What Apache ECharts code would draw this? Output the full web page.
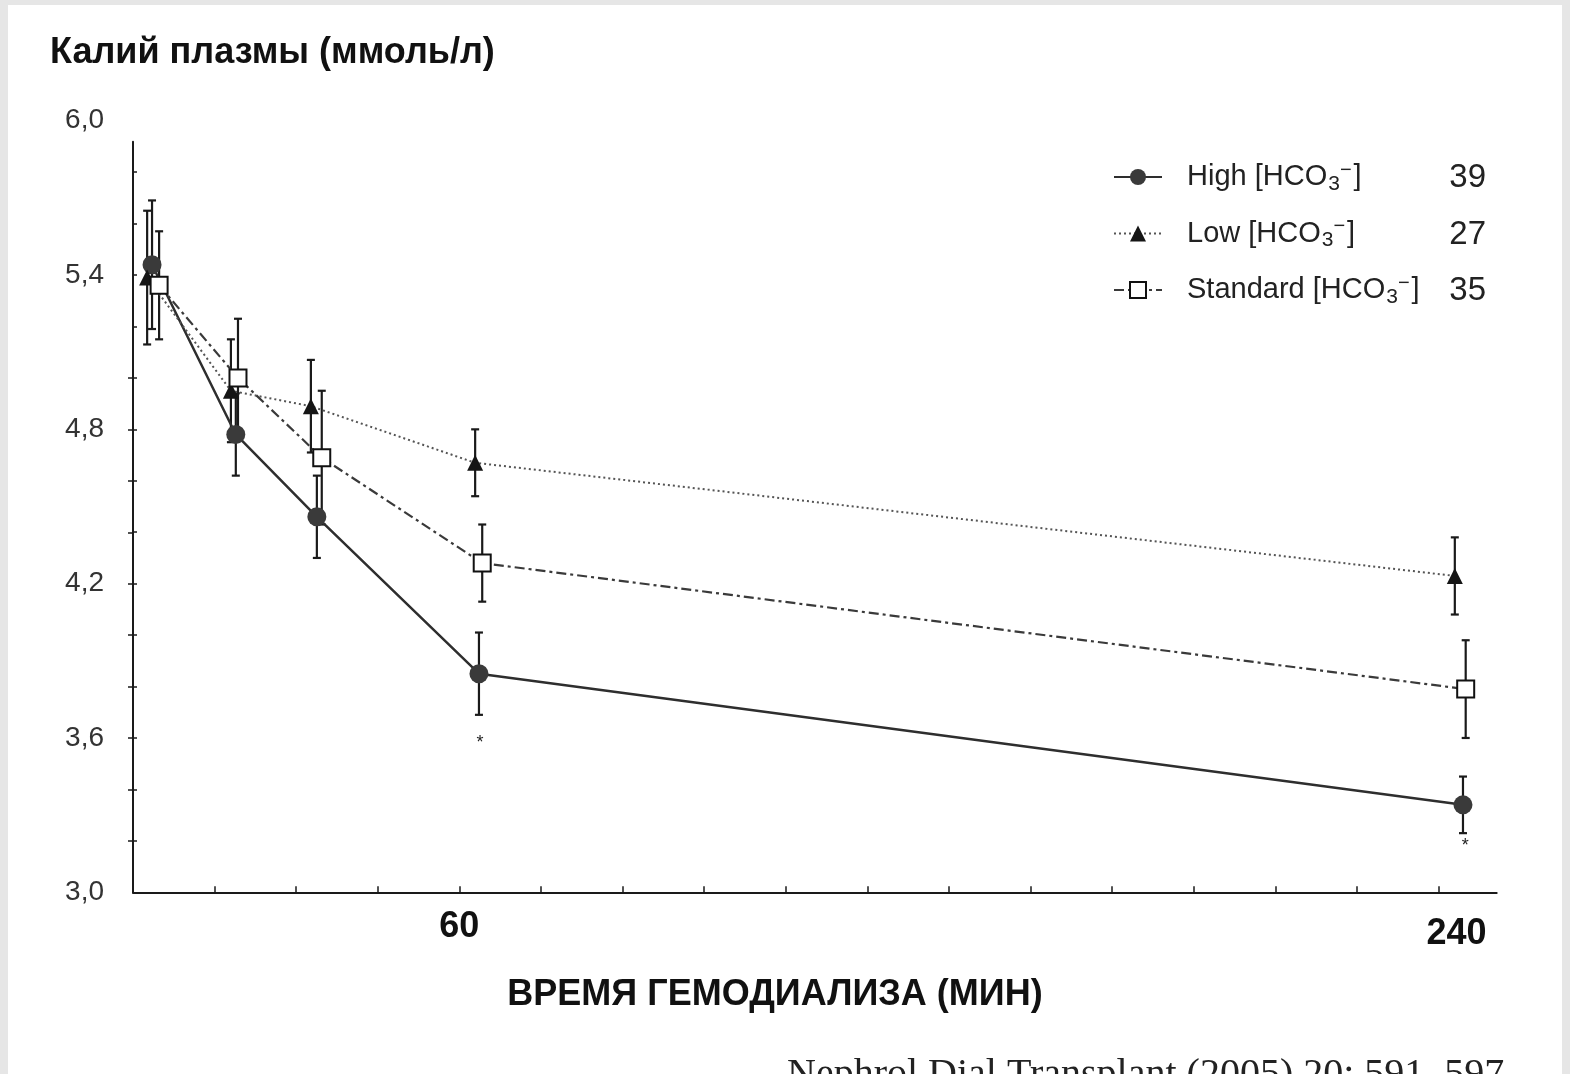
<!DOCTYPE html>
<html>
<head>
<meta charset="utf-8">
<script src="https://cdn.jsdelivr.net/npm/echarts@6/dist/echarts.min.js"></script>
<style>
  html, body { margin: 0; padding: 0; background: #e6e6e6; }
  #paper { position: absolute; left: 8px; top: 5px; width: 1554px; height: 1069px; background: #ffffff; }
  #chart { position: absolute; left: 0; top: 0; width: 1570px; height: 1074px; }
</style>
</head>
<body>
<div id="paper"></div>
<div id="chart"></div>
<script>
// ---- data ----
const seriesNames = ['High', 'Low', 'Standard'];
const groupN = [39, 27, 35];

// plotted time positions (min), slightly staggered per group as in the figure
const timeHigh = [3.5, 18.9, 33.8, 63.6, 244.5];
const timeLow  = [2.6, 18.0, 32.7, 62.9, 243.0];
const timeStd  = [4.8, 19.3, 34.7, 64.2, 245.0];

// plasma potassium means (mmol/l)
const kHigh = [5.44, 4.78, 4.46, 3.85, 3.34];
const kLow  = [5.39, 4.95, 4.89, 4.67, 4.23];
const kStd  = [5.36, 5.00, 4.69, 4.28, 3.79];

// error bar half-lengths (mmol/l)
const errHigh = [0.25, 0.16, 0.16, 0.16, 0.11];
const errLow  = [0.26, 0.20, 0.18, 0.13, 0.15];
const errStd  = [0.21, 0.23, 0.26, 0.15, 0.19];

// significance marks
const starTime = [63.8, 244.9];
const starK = [3.58, 3.18];

const yTickLabels = [3.0, 3.6, 4.2, 4.8, 5.4, 6.0];
const xTickValues = [15, 30, 45, 60, 75, 90, 105, 120, 135, 150, 165, 180, 195, 210, 225, 240];
const xLabelValues = [60, 240];
const yMinorTicks = [3.2, 3.4, 3.6, 3.8, 4.0, 4.2, 4.4, 4.6, 4.8, 5.0, 5.2, 5.4, 5.6, 5.8];
const yRightTicks = [3.2, 3.4, 3.6, 3.8, 4.0, 4.2, 4.4, 4.6, 4.8, 5.0];

const yTitle = 'Калий плазмы (ммоль/л)';
const xTitle = 'ВРЕМЯ ГЕМОДИАЛИЗА (МИН)';
const citation = 'Nephrol Dial Transplant (2005) 20: 591–597';

// ---- build ----
const SANS = '"Liberation Sans", Arial, sans-serif';
const SERIF = '"Liberation Serif", "Times New Roman", serif';
const zip = (a, b) => a.map((v, i) => [v, b[i]]);
const zip3 = (a, b, c) => a.map((v, i) => [v, b[i], c[i]]);

function errSeries(data) {
  return {
    type: 'custom', xAxisIndex: 0, yAxisIndex: 0, z: 1, silent: true,
    data: data,
    encode: { x: 0, y: 1 },
    renderItem: function (params, api) {
      const x = api.value(0), y = api.value(1), e = api.value(2);
      const t = api.coord([x, y + e]), b = api.coord([x, y - e]);
      const c = 4;
      const st = { stroke: '#1a1a1a', lineWidth: 2.2 };
      return { type: 'group', children: [
        { type: 'line', shape: { x1: t[0], y1: t[1], x2: b[0], y2: b[1] }, style: st },
        { type: 'line', shape: { x1: t[0] - c, y1: t[1], x2: t[0] + c, y2: t[1] }, style: st },
        { type: 'line', shape: { x1: b[0] - c, y1: b[1], x2: b[0] + c, y2: b[1] }, style: st }
      ]};
    }
  };
}

const X_MAX = 250.7;
const gridBottom = 181.7;
const gridRight = 73.3;

const option = {
  animation: false,
  backgroundColor: 'transparent',
  textStyle: { fontFamily: SANS },
  grid: [
    { left: 133, right: gridRight, top: 120.7, bottom: gridBottom },
    { left: 133, right: gridRight, top: 141.7, bottom: gridBottom },
    { left: 133, right: gridRight, top: 370, bottom: gridBottom }
  ],
  xAxis: [
    {
      gridIndex: 0, type: 'value', min: 0, max: X_MAX,
      axisLine: { show: true, lineStyle: { color: '#1a1a1a', width: 2 } },
      axisTick: { show: true, inside: true, length: 6, customValues: xTickValues, lineStyle: { color: '#1a1a1a', width: 1.5 } },
      splitLine: { show: false },
      axisLabel: {
        customValues: xLabelValues, margin: 17,
        formatter: v => (v === 240 ? '{b|240}' : '{a|' + v + '}'),
        rich: {
          a: { fontFamily: SANS, fontSize: 36, fontWeight: 'bold', color: '#111' },
          b: { fontFamily: SANS, fontSize: 36, fontWeight: 'bold', color: '#111', padding: [7, 0, 0, 36] }
        }
      }
    },
    { gridIndex: 1, type: 'value', min: 0, max: X_MAX, show: false },
    { gridIndex: 2, type: 'value', min: 0, max: X_MAX, show: false }
  ],
  yAxis: [
    {
      gridIndex: 0, type: 'value', min: 3.0, max: 6.0, interval: 0.6,
      axisLine: { show: false }, axisTick: { show: false }, splitLine: { show: false },
      axisLabel: {
        margin: 29, fontSize: 28, color: '#333', fontFamily: SANS,
        formatter: v => v.toFixed(1).replace('.', ',')
      }
    },
    {
      gridIndex: 1, type: 'value', min: 3.0, max: 5.918,
      axisLine: { show: true, lineStyle: { color: '#1a1a1a', width: 2 } },
      axisTick: { show: true, inside: true, length: 4, customValues: yMinorTicks, lineStyle: { color: '#1a1a1a', width: 1.5 } },
      axisLabel: { show: false }, splitLine: { show: false }
    },
    {
      gridIndex: 2, type: 'value', position: 'right', min: 3.0, max: 5.031,
      axisLine: { show: true, lineStyle: { color: '#1a1a1a', width: 2 } },
      axisTick: { show: true, inside: true, length: 5, customValues: yRightTicks, lineStyle: { color: '#1a1a1a', width: 1.5 } },
      axisLabel: { show: false }, splitLine: { show: false }
    }
  ],
  legend: {
    orient: 'vertical', left: 1108, top: 155,
    itemWidth: 48, itemHeight: 20, itemGap: 22,
    selectedMode: false,
    data: seriesNames,
    formatter: name => '{a|' + name + ' [HCO}{s|3}{p|−}{b|]}',
    textStyle: {
      rich: {
        a: { fontFamily: SANS, fontSize: 29, color: '#222', padding: [0, 0, 0, 20] },
        b: { fontFamily: SANS, fontSize: 29, color: '#222', padding: [0, 0, 0, 2] },
        s: { fontFamily: SANS, fontSize: 21, color: '#222', padding: [14, 0, 0, 1] },
        p: { fontFamily: SANS, fontSize: 20, color: '#222', padding: [0, 0, 14, 0] }
      }
    }
  },
  graphic: [
    { type: 'text', left: 50, top: 35, style: { text: yTitle, font: 'bold 36px ' + SANS, fill: '#111' } },
    { type: 'text', x: 775, y: 977, style: { text: xTitle, font: 'bold 36px ' + SANS, fill: '#111', align: 'center', verticalAlign: 'top' } },
    { type: 'text', x: 787, y: 1055, style: { text: citation, font: '40px ' + SERIF, fill: '#222', verticalAlign: 'top' } }
  ].concat(groupN.map((n, i) => ({
    type: 'text', x: 1486, y: 178 + i * 56.5,
    style: { text: String(n), font: '33px ' + SANS, fill: '#222', align: 'right', verticalAlign: 'middle' }
  }))),
  series: [
    errSeries(zip3(timeHigh, kHigh, errHigh)),
    errSeries(zip3(timeLow, kLow, errLow)),
    errSeries(zip3(timeStd, kStd, errStd)),
    {
      name: 'High', type: 'line', xAxisIndex: 0, yAxisIndex: 0, z: 3,
      data: zip(timeHigh, kHigh),
      symbol: 'circle', symbolSize: 19,
      itemStyle: { color: '#3a3a3a' },
      lineStyle: { color: '#2e2e2e', width: 2.5, type: 'solid' }
    },
    {
      name: 'Low', type: 'line', xAxisIndex: 0, yAxisIndex: 0, z: 4,
      data: zip(timeLow, kLow),
      symbol: 'triangle', symbolSize: 16,
      itemStyle: { color: '#151515' },
      lineStyle: { color: '#555', width: 2, type: [2, 3] }
    },
    {
      name: 'Standard', type: 'line', xAxisIndex: 0, yAxisIndex: 0, z: 5,
      data: zip(timeStd, kStd),
      symbol: 'rect', symbolSize: 17,
      itemStyle: { color: '#ffffff', borderColor: '#111', borderWidth: 2 },
      lineStyle: { color: '#3a3a3a', width: 2.2, type: [10, 4, 3, 4] }
    },
    {
      type: 'custom', xAxisIndex: 0, yAxisIndex: 0, z: 6, silent: true,
      data: zip(starTime, starK), encode: { x: 0, y: 1 },
      renderItem: function (params, api) {
        const p = api.coord([api.value(0), api.value(1)]);
        return { type: 'text', x: p[0], y: p[1], style: { text: '*', font: '18px ' + SANS, fill: '#222', align: 'center', verticalAlign: 'middle' } };
      }
    }
  ]
};

const chart = echarts.init(document.getElementById('chart'), null, { renderer: 'canvas', width: 1570, height: 1074 });
chart.setOption(option);
</script>
</body>
</html>
